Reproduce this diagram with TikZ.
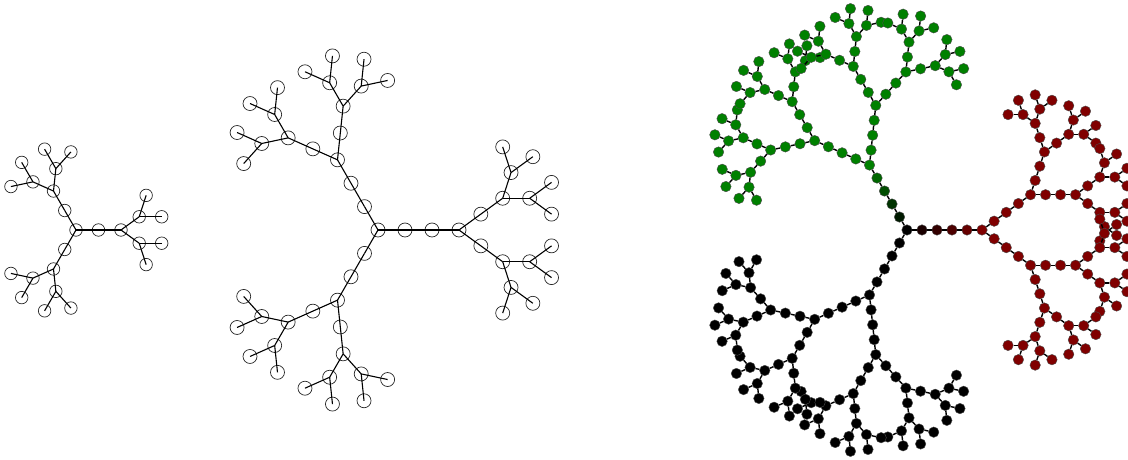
\documentclass[tikz,border=0pt]{standalone}
\definecolor{tred}{RGB}{128,0,0}
\definecolor{tgreen}{RGB}{0,128,0}
\newcommand\grow[4]{%
  \ifnum#4<\nlev\relax
  \begingroup
    \pgfmathtruncatemacro\seglen{\lenlist[#4]}%
    \foreach \i in {1,...,\seglen}{%
      \pgfmathtruncatemacro\j{\i-1}%
      \ifnum\j=0 \def\prev{#2}\else\edef\prev{#1-\j}\fi
      \ifnum#4=0 \pgfmathtruncatemacro\pct{100*\i/\seglen}\else\def\pct{100}\fi
      \path (\prev) ++(#3:\elen) node[dot] (#1-\i) {};
      \draw[conn] (\prev\ctr) -- (#1-\i\ctr);
    }%
    \pgfmathsetmacro\angA{#3+36}%
    \pgfmathsetmacro\angB{#3-36}%
    \pgfmathtruncatemacro\nextlev{#4+1}%
    \edef\growNext{\noexpand\grow{#1a}{#1-\seglen}{\angA}{\nextlev}\noexpand\grow{#1b}{#1-\seglen}{\angB}{\nextlev}}%
  \expandafter\endgroup\growNext
  \fi}
\begin{document}
\begin{tikzpicture}[x=1pt,y=1pt,
  conn/.style={draw=black,line width=1.1pt},
  opendot/.style={circle,draw=black!85,line width=0.7pt,fill=none,inner sep=0pt}]
\useasboundingbox (0,0) rectangle (1128,460);
% tree 1
\begin{scope}[dot/.style={opendot,minimum size=12.5pt}]
\def\lenlist{{2,1,1}}\def\nlev{3}\def\elen{22.5pt}\def\ctr{.center}
\node[dot] (T1) at (76,230) {};
\grow{T1r}{T1}{0}{0}\grow{T1g}{T1}{120}{0}\grow{T1k}{T1}{240}{0}
\end{scope}
% tree 2
\begin{scope}[dot/.style={opendot,minimum size=14pt}]
\def\lenlist{{3,2,1,1}}\def\nlev{4}\def\elen{27pt}\def\ctr{.center}
\node[dot] (T2) at (378,230) {};
\grow{T2r}{T2}{0}{0}\grow{T2g}{T2}{120}{0}\grow{T2k}{T2}{240}{0}
\end{scope}
% tree 3
\begin{scope}[conn/.style={draw=black,line width=1.4pt}]
\def\lenlist{{5,4,3,2,1,1}}\def\nlev{6}\def\elen{15pt}\def\ctr{}
\def\pct{0}
\tikzset{dot/.style={circle,draw=black!70,line width=0.4pt,fill=tred!\pct!black,minimum size=10.5pt,inner sep=0pt}}
\node[dot] (T3) at (907,230) {};
\grow{T3r}{T3}{0}{0}
\tikzset{dot/.style={circle,draw=black!70,line width=0.4pt,fill=tgreen!\pct!black,minimum size=10.5pt,inner sep=0pt}}
\grow{T3g}{T3}{120}{0}
\tikzset{dot/.style={circle,draw=black!70,line width=0.4pt,fill=black,minimum size=10.5pt,inner sep=0pt}}
\grow{T3k}{T3}{240}{0}
\end{scope}
\end{tikzpicture}
\end{document}
